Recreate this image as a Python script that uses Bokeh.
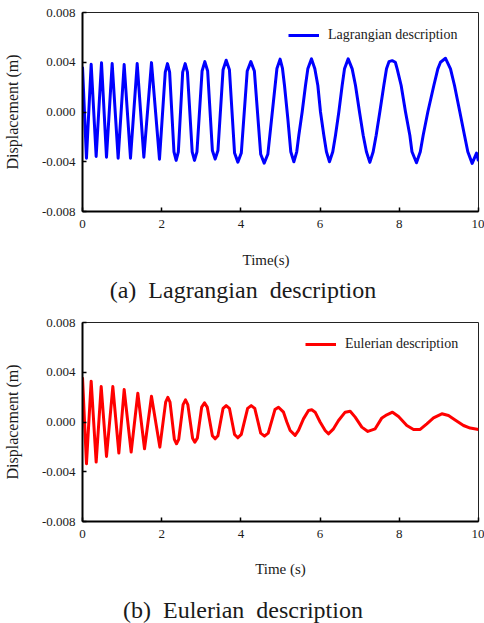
from bokeh.plotting import figure
from bokeh.models import FixedTicker, PrintfTickFormatter, Legend, LegendItem, Range1d
from bokeh.core.properties import value
from bokeh.layouts import column
from bokeh.embed import file_html
from bokeh.resources import INLINE

# ---------------- data ----------------
x_ticks = [0, 2, 4, 6, 8, 10]
y_ticks = [-0.008, -0.004, 0.0, 0.004, 0.008]

y_label = "Displacement (m)"
x_label_a = "Time(s)"
x_label_b = "Time (s)"
caption_a = "(a)\u00a0 Lagrangian\u00a0 description"
caption_b = "(b)\u00a0 Eulerian\u00a0 description"
legend_a = "Lagrangian description"
legend_b = "Eulerian description"

lag_t = [0.0, 0.10, 0.219, 0.345, 0.48, 0.606, 0.749, 0.90, 1.052, 1.212, 1.381,
         1.549, 1.742, 1.944,
         2.09, 2.146, 2.20, 2.31, 2.365, 2.42, 2.53, 2.593, 2.65, 2.77, 2.828, 2.89,
         3.02, 3.089, 3.16, 3.28, 3.35, 3.42, 3.55, 3.628, 3.71, 3.84, 3.923, 4.01,
         4.16, 4.251, 4.34, 4.50, 4.588, 4.68, 4.91, 4.99, 5.05,
         5.101, 5.185, 5.26, 5.337, 5.41, 5.463, 5.547, 5.631, 5.690, 5.783, 5.867,
         5.943, 6.010, 6.094, 6.16, 6.237, 6.32, 6.389, 6.473, 6.557, 6.616, 6.709,
         6.810, 6.894, 6.995, 7.088, 7.17, 7.256, 7.34, 7.416, 7.508, 7.609, 7.677,
         7.74, 7.820, 7.90, 7.946, 8.047, 8.157, 8.266, 8.32, 8.434, 8.53, 8.603,
         8.720, 8.872, 8.973, 9.04, 9.167, 9.293, 9.394, 9.529, 9.646, 9.73, 9.840,
         9.95, 10.0]
lag_d = [0.00363, -0.00371, 0.00384, -0.00357, 0.00395, -0.00363, 0.00389,
         -0.00371, 0.00381, -0.00371, 0.00389, -0.00363, 0.00397, -0.00379,
         0.0032, 0.00389, 0.0032, -0.0032, -0.00389, -0.0032, 0.0032, 0.00389, 0.0032,
         -0.0032, -0.00389, -0.0032,
         0.0033, 0.00405, 0.0033, -0.0031, -0.00379, -0.0031, 0.0034, 0.00416, 0.0034,
         -0.0033, -0.00403, -0.0033,
         0.0033, 0.00405, 0.0033, -0.0034, -0.00411, -0.0034, 0.0035, 0.00425, 0.0035,
         0.00213, -0.00053, -0.0032, -0.0040, -0.0032, -0.00187, 0.0, 0.00213,
         0.00347, 0.00427, 0.00347,
         0.00213, 0.0, -0.00187, -0.0032, -0.0040, -0.0032, -0.00187, 0.0, 0.00213,
         0.00347, 0.00427,
         0.00347, 0.00213, 0.0, -0.00187, -0.0032, -0.00405, -0.0032, -0.00187, 0.0,
         0.00213, 0.00347,
         0.00405, 0.00413, 0.00400, 0.00347, 0.00213, 0.0, -0.00187, -0.0032,
         -0.00408, -0.0032, -0.00187,
         0.0, 0.00213, 0.00347, 0.00400, 0.00432, 0.00347, 0.00213, 0.0, -0.00187,
         -0.0032, -0.00413,
         -0.0033, -0.00395]

eul_t = [0.0, 0.10, 0.219, 0.345, 0.472, 0.606, 0.766, 0.918, 1.052, 1.229, 1.397,
         1.566, 1.742, 1.953,
         2.10, 2.155, 2.21, 2.32, 2.374, 2.43, 2.54, 2.601, 2.66, 2.78, 2.837, 2.90,
         3.01, 3.081, 3.15, 3.28, 3.35, 3.42, 3.55, 3.628, 3.71, 3.84, 3.923, 4.01,
         4.17, 4.26, 4.35, 4.50, 4.596, 4.69, 4.86,
         4.95, 5.076, 5.16, 5.244, 5.37, 5.455, 5.58, 5.707,
         5.79, 5.875, 6.0, 6.128, 6.21, 6.338, 6.465, 6.633, 6.76, 6.886, 7.054,
         7.206, 7.391, 7.56, 7.685, 7.828, 7.98, 8.19, 8.359, 8.527, 8.695, 8.864,
         9.074, 9.242, 9.41, 9.621, 9.79, 10.0]
eul_d = [0.0036, -0.00336, 0.00328, -0.00322, 0.00285, -0.00277, 0.00285,
         -0.00250, 0.00261, -0.00242, 0.00231, -0.00215, 0.00207, -0.00202,
         0.0016, 0.00199, 0.0016, -0.0014, -0.00175, -0.0014, 0.0014, 0.00178, 0.0014,
         -0.0013, -0.00162, -0.0013, 0.0012, 0.00154, 0.0012, -0.0011, -0.00135,
         -0.0011, 0.0011, 0.00132, 0.0011, -0.0010, -0.00127, -0.0010,
         0.0011, 0.00132, 0.0011, -0.0009, -0.00114, -0.0009, 0.0010,
         0.00119, 0.00079, 0.0, -0.00068, -0.00108,
         -0.00068, 0.00025, 0.00092, 0.00098, 0.00079, 0.0, -0.00068, -0.00095,
         -0.00055, 0.00012, 0.00079, 0.00087, 0.00039, -0.00041, -0.00076,
         -0.00055, 0.00033, 0.00058, 0.00079, 0.00044, -0.00028, -0.0006,
         -0.0006, -0.00015, 0.00033, 0.00066, 0.00052, 0.00017, -0.00028,
         -0.00049, -0.0006]

FONT = "Liberation Serif"
TXT = "#1a1a1a"
FRAME_H = 199
AXIS_H = 27


def make_panel(t, d, color, legend_label, legend_loc, top):
    height = top + FRAME_H + AXIS_H
    p = figure(width=484, height=height, output_backend="svg", toolbar_location=None,
               x_range=Range1d(0, 10), y_range=Range1d(-0.008, 0.008),
               min_border_left=82, min_border_right=6, min_border_top=top,
               min_border_bottom=AXIS_H)
    p.background_fill_color = "white"
    p.border_fill_color = "white"
    p.outline_line_color = "#222222"
    p.outline_line_width = 1
    p.grid.visible = False

    r = p.line(t, d, line_color=color, line_width=3, line_join="round")

    for ax in (p.xaxis, p.yaxis):
        ax.axis_line_width = 2
        ax.axis_line_color = "black"
        ax.major_tick_in = 4
        ax.major_tick_out = 0
        ax.major_tick_line_width = 1.5
        ax.minor_tick_line_color = None
        ax.major_label_text_font = FONT
        ax.major_label_text_font_size = "13px"
        ax.major_label_text_color = TXT
    p.xaxis.ticker = FixedTicker(ticks=x_ticks)
    p.yaxis.ticker = FixedTicker(ticks=y_ticks)
    p.yaxis.formatter = PrintfTickFormatter(format="%.3f")
    p.xaxis.major_label_standoff = 8
    p.yaxis.major_label_standoff = 7

    p.yaxis.axis_label = y_label
    p.yaxis.axis_label_text_font = FONT
    p.yaxis.axis_label_text_font_size = "16px"
    p.yaxis.axis_label_text_font_style = "normal"
    p.yaxis.axis_label_text_color = TXT
    p.yaxis.axis_label_standoff = 18

    legend = Legend(items=[LegendItem(label=legend_label, renderers=[r])],
                    location=legend_loc, glyph_width=31, glyph_height=16,
                    label_height=16, label_standoff=9, padding=0, margin=0,
                    spacing=0, border_line_color=None, background_fill_alpha=0,
                    label_text_font=FONT, label_text_font_size="14px",
                    label_text_color=TXT)
    p.add_layout(legend)
    return p


def make_text_strip(height, xlabel, xlabel_pos, caption, caption_pos):
    # a strip under each panel, sharing the panel's horizontal frame and time scale,
    # with a pixel-space vertical scale, for the x label and the caption
    s = figure(width=484, height=height, output_backend="svg", toolbar_location=None,
               x_range=Range1d(0, 10), y_range=Range1d(0, height),
               x_axis_type=None, y_axis_type=None,
               min_border_left=82, min_border_right=6, min_border_top=0,
               min_border_bottom=0)
    s.outline_line_color = None
    s.grid.visible = False
    s.background_fill_color = "white"
    s.border_fill_color = "white"
    s.text(x=[xlabel_pos[0]], y=[xlabel_pos[1]], text=[xlabel],
           text_font=value(FONT), text_font_size=value("15px"),
           text_align="center", text_baseline="middle", text_color=TXT)
    s.text(x=[caption_pos[0]], y=[caption_pos[1]], text=[caption],
           text_font=value(FONT), text_font_size=value("24px"),
           text_align="center", text_baseline="middle", text_color=TXT)
    return s


p1 = make_panel(lag_t, lag_d, "#0000ff", legend_a, (206, 168), top=12)     # 0..238
s1 = make_text_strip(74, x_label_a, (4.634, 53), caption_a, (4.053, 23))    # 238..312
p2 = make_panel(eul_t, eul_d, "#ff0000", legend_b, (223, 169), top=10)     # 312..548
s2 = make_text_strip(75, x_label_b, (5.0, 55), caption_b, (4.053, 14))     # 548..623

layout = column(p1, s1, p2, s2, spacing=0)
open("out.html", "w").write(file_html(layout, INLINE))
